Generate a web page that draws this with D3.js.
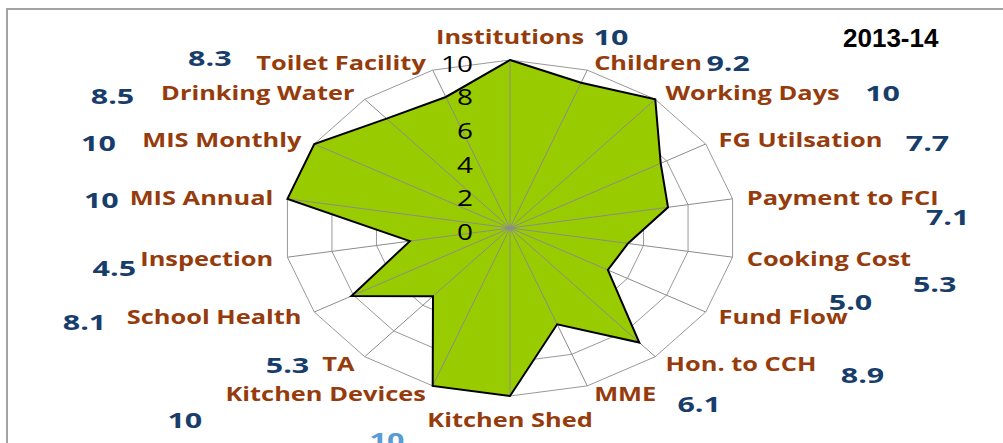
<!DOCTYPE html>
<html>
<head>
<meta charset="utf-8">
<script src="https://cdn.jsdelivr.net/npm/d3@7"></script>
<style>
  html, body { margin: 0; padding: 0; background: #fff; }
  svg { display: block; }
  .cat { font-family: 'Open Sans', sans-serif; font-weight: 700; fill: #963c0c; }
  .val { font-family: 'Open Sans', sans-serif; font-weight: 700; fill: #173d6b; }
  .tick { font-family: 'Open Sans', sans-serif; fill: #000; }
  .title { font-family: 'Liberation Sans', Arial, sans-serif; font-weight: 700; fill: #000; }
</style>
</head>
<body>
<div id="chart"></div>
<script>
const categories = [
  'Institutions', 'Children', 'Working Days', 'FG Utilsation', 'Payment to FCI',
  'Cooking Cost', 'Fund Flow', 'Hon. to CCH', 'MME', 'Kitchen Shed',
  'Kitchen Devices', 'TA', 'School Health', 'Inspection', 'MIS Annual',
  'MIS Monthly', 'Drinking Water', 'Toilet Facility'
]
const values = [10, 9.2, 10, 7.7, 7.1, 5.3, 5.0, 8.9, 6.1, 10, 10, 5.3, 8.1, 4.5, 10, 10, 8.5, 8.3]
const ticks = [0, 2, 4, 6, 8, 10]
const title = '2013-14'

// hand-placed value labels, offset from each category label anchor (layout only)
const valueNudge = [
  [101, -15], [137, 1], [220, 0], [212, 3], [204, 20], [191, 25],
  [135, -14], [200, 12], [108, 10], [-123, 36], [-244, 26], [-70, 2],
  [-220, 6], [-162, 9], [-175, 3], [-206, 3], [-245, 3], [-219, -4]
]

const width = 1003
const height = 443
const cx = 510
const cy = 228
const SX = 1.27 // text in the source is stretched sideways
const SXV = 1.45

const svg = d3.select('#chart').append('svg').attr('width', width).attr('height', height)

// frame (top + left edges only are visible)
svg.append('path')
  .attr('d', `M7,${height} L7,9 L${width},9`)
  .attr('fill', 'none')
  .attr('stroke', '#a3a3a3')
  .attr('stroke-width', 2)

const rX = d3.scaleLinear().domain([0, 10]).range([0, 226])
const rY = d3.scaleLinear().domain([0, 10]).range([0, 168])
const angle = d3.scaleLinear().domain([0, categories.length]).range([0, 2 * Math.PI])

const px = (i, v) => cx + rX(v) * Math.sin(angle(i))
const py = (i, v) => cy - rY(v) * Math.cos(angle(i))

const g = svg.append('g')
const idx = d3.range(categories.length)

// rings
g.selectAll('path.ring')
  .data(ticks.filter((t) => t > 0))
  .join('path')
  .attr('class', 'ring')
  .attr('d', (t) => d3.line()(idx.map((i) => [px(i, t), py(i, t)])) + 'Z')
  .attr('fill', 'none')
  .attr('stroke', '#999')
  .attr('stroke-width', 1)

// filled series
const shape = d3.line()(values.map((v, i) => [px(i, v), py(i, v)])) + 'Z'
g.append('path').attr('d', shape).attr('fill', '#99cc00')

// spokes
g.selectAll('line.spoke')
  .data(idx)
  .join('line')
  .attr('class', 'spoke')
  .attr('x1', cx).attr('y1', cy)
  .attr('x2', (i) => px(i, 10))
  .attr('y2', (i) => py(i, 10))
  .attr('stroke', '#8c8c8c')
  .attr('stroke-width', 1)

// outline
g.append('path').attr('d', shape).attr('fill', 'none').attr('stroke', '#000').attr('stroke-width', 2).attr('stroke-linejoin', 'miter')

// axis tick labels
g.selectAll('text.tick')
  .data(ticks)
  .join('text')
  .attr('class', 'tick')
  .attr('text-anchor', 'end')
  .attr('dominant-baseline', 'central')
  .attr('font-size', 22)
  .attr('transform', (t) => `translate(${cx - 37},${cy - rY(t) + 3}) scale(${SX},1)`)
  .text((t) => t)

// category labels
const LR = 10.5
function anchorOf(i) {
  const s = Math.sin(angle(i))
  const c = Math.cos(angle(i))
  let x = px(i, LR)
  let y = py(i, LR)
  let a = 'middle'
  if (s > 0.1) { a = 'start'; x += 3 }
  else if (s < -0.1) { a = 'end'; x -= 3 }
  else { y -= c * 15 }
  return { x, y, a, bx: px(i, LR), by: py(i, LR) }
}

g.selectAll('text.cat')
  .data(idx)
  .join('text')
  .attr('class', 'cat')
  .attr('font-size', 20)
  .attr('text-anchor', (i) => anchorOf(i).a)
  .attr('dominant-baseline', 'central')
  .attr('transform', (i) => `translate(${anchorOf(i).x},${anchorOf(i).y}) scale(${SX},1)`)
  .text((i) => categories[i])

// value labels
const fmt = (v) => (v >= 10 ? d3.format('d')(v) : d3.format('.1f')(v))
g.selectAll('text.val')
  .data(idx)
  .join('text')
  .attr('class', 'val')
  .attr('font-size', 21)
  .attr('text-anchor', 'middle')
  .attr('dominant-baseline', 'central')
  .style('fill', (i) => (i === 9 ? '#5b9bd5' : null))
  .attr('transform', (i) => {
    const a = anchorOf(i)
    return `translate(${a.bx + valueNudge[i][0]},${a.by + valueNudge[i][1]}) scale(${SXV},1)`
  })
  .text((i) => fmt(values[i]))

// title
svg.append('text')
  .attr('class', 'title')
  .attr('x', 843)
  .attr('y', 38)
  .attr('dominant-baseline', 'central')
  .attr('font-size', 26)
  .text(title)
</script>
</body>
</html>
